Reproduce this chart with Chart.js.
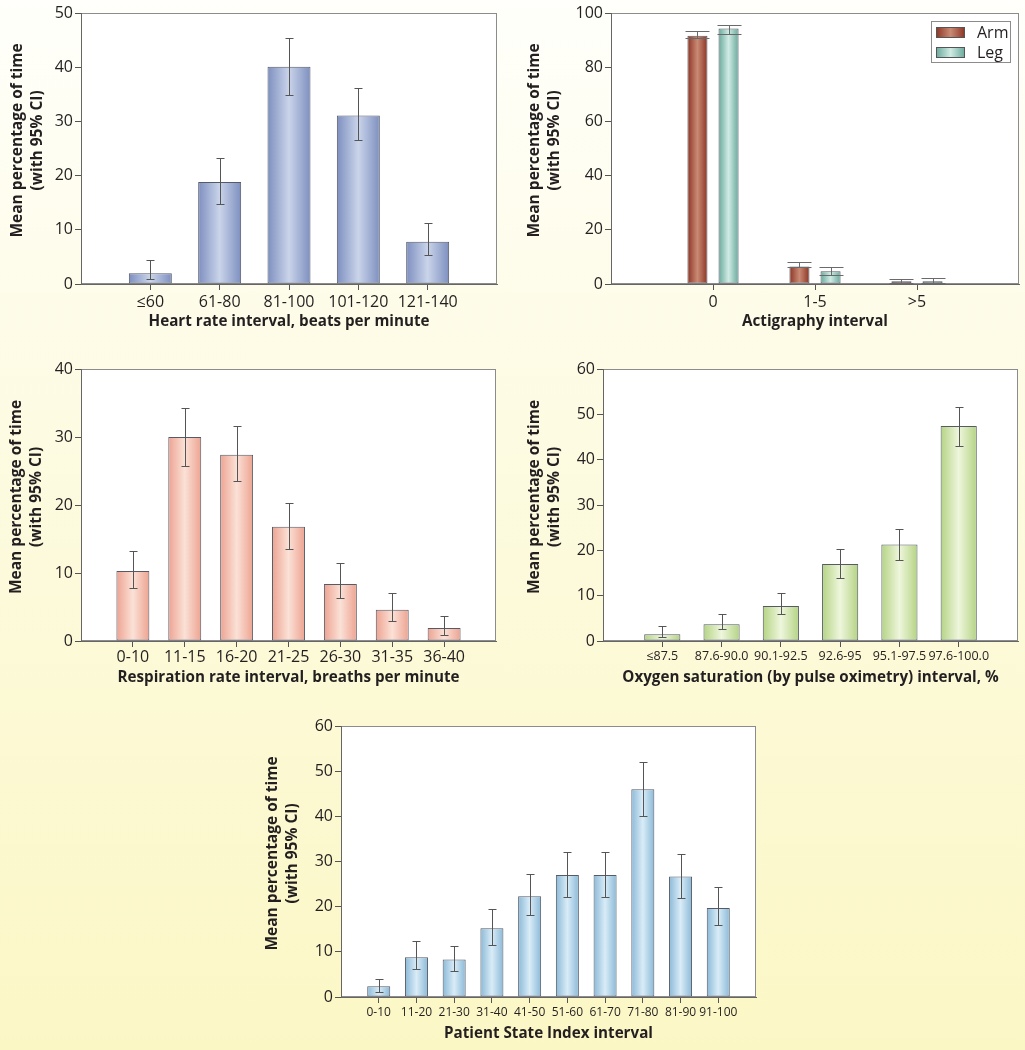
<!DOCTYPE html>
<html>
<head>
<meta charset="utf-8">
<script src="https://cdn.jsdelivr.net/npm/chart.js@4.4.1/dist/chart.umd.min.js"></script>
<style>
  html, body { margin: 0; padding: 0; }
  body {
    width: 1025px; height: 1050px; position: relative; overflow: hidden;
    background: linear-gradient(#fffffb 0%, #fdfbe2 40%, #fbf7c5 100%);
  }
  canvas { position: absolute; }
</style>
</head>
<body>
<canvas id="hrChart"></canvas>
<canvas id="actChart"></canvas>
<canvas id="rrChart"></canvas>
<canvas id="spo2Chart"></canvas>
<canvas id="psiChart"></canvas>
<script>
// heart rate
const hrLabels = ["≤60", "61-80", "81-100", "101-120", "121-140"];
const hrMean = [2.0, 18.8, 40.1, 31.1, 7.8];
const hrLo = [0.9, 14.8, 34.8, 26.5, 5.3];
const hrHi = [4.4, 23.2, 45.3, 36.1, 11.2];

// actigraphy
const actLabels = ["0", "1-5", ">5"];
const armMean = [91.6, 6.5, 1.0];
const armLo = [90.7, 6.3, 0.4];
const armHi = [93.2, 8.0, 2.0];
const legMean = [94.3, 4.7, 1.0];
const legLo = [92.2, 3.3, 0.4];
const legHi = [95.4, 6.3, 2.1];

// respiration rate
const rrLabels = ["0-10", "11-15", "16-20", "21-25", "26-30", "31-35", "36-40"];
const rrMean = [10.3, 30.0, 27.4, 16.8, 8.4, 4.6, 1.9];
const rrLo = [7.8, 25.8, 23.5, 13.6, 6.3, 3.0, 0.9];
const rrHi = [13.3, 34.2, 31.6, 20.3, 11.4, 7.0, 3.7];

// oxygen saturation
const spo2Labels = ["≤87.5", "87.6-90.0", "90.1-92.5", "92.6-95", "95.1-97.5", "97.6-100.0"];
const spo2Mean = [1.5, 3.7, 7.7, 17.0, 21.3, 47.4];
const spo2Lo = [0.8, 2.6, 5.9, 13.8, 17.9, 43.1];
const spo2Hi = [3.2, 5.9, 10.5, 20.2, 24.8, 51.6];

// patient state index
const psiLabels = ["0-10", "11-20", "21-30", "31-40", "41-50", "51-60", "61-70", "71-80", "81-90", "91-100"];
const psiMean = [2.4, 8.8, 8.3, 15.2, 22.3, 27.0, 27.0, 46.0, 26.7, 19.7];
const psiLo = [1.0, 6.3, 5.7, 11.6, 18.2, 22.2, 22.2, 40.1, 22.0, 15.9];
const psiHi = [4.0, 12.3, 11.3, 19.4, 27.2, 32.2, 32.0, 52.1, 31.7, 24.4];

// leading spaces nudge the centred title a little above the plot middle
const yTitle = ["    Mean percentage of time", "    (with 95% CI)"];

Chart.defaults.font.family = "'Open Sans', 'Noto Sans', sans-serif";
Chart.defaults.color = "#231f20";

// empty slot before the first and after the last category
const pad = (arr, v) => [v, ...arr, v];

// horizontal gradient across each bar: dark edges, light middle
function barFill(c) {
  const ds = c.dataset;
  if (c.type !== "data") return ds.fillMid;
  const chart = c.chart;
  const xs = chart.scales.x;
  const n = chart.data.datasets.length;
  const step = xs.getPixelForValue(1) - xs.getPixelForValue(0);
  const size = step * ds.categoryPercentage;
  const chunk = size / n;
  const cx = xs.getPixelForValue(c.dataIndex) - size / 2 + chunk * (c.datasetIndex + 0.5);
  const w = chunk * ds.barPercentage;
  if (!isFinite(cx) || !isFinite(w) || w <= 0) return ds.fillMid;
  const g = chart.ctx.createLinearGradient(cx - w / 2, 0, cx + w / 2, 0);
  g.addColorStop(0, ds.fillEdge);
  g.addColorStop(0.5, ds.fillMid);
  g.addColorStop(1, ds.fillEdge);
  return g;
}

// x tick marks only under the real categories, not the empty end slots
function xTickColor(c) {
  const n = c.scale && c.scale.ticks ? c.scale.ticks.length : 0;
  return c.index > 0 && c.index < n - 1 ? "#555" : "rgba(0,0,0,0)";
}

const plotFrame = {
  id: "plotFrame",
  beforeDraw(chart) {
    const { ctx, chartArea: a } = chart;
    ctx.save();
    ctx.fillStyle = "#ffffff";
    ctx.fillRect(a.left, a.top, a.width, a.height);
    ctx.strokeStyle = "#8c8c8c";
    ctx.lineWidth = 1;
    ctx.strokeRect(Math.round(a.left) + 0.5, Math.round(a.top) + 0.5,
      Math.round(a.width) - 1, Math.round(a.height) - 1);
    ctx.restore();
  },
};

const errorBars = {
  id: "errorBars",
  afterDatasetsDraw(chart) {
    const { ctx } = chart;
    const ys = chart.scales.y;
    chart.data.datasets.forEach((ds, di) => {
      chart.getDatasetMeta(di).data.forEach((bar, i) => {
        const lo = ds.errLo[i], hi = ds.errHi[i];
        if (lo == null || hi == null) return;
        const x = Math.round(bar.x) + 0.5;
        const yl = Math.round(ys.getPixelForValue(lo)) + 0.5;
        const yh = Math.round(ys.getPixelForValue(hi)) + 0.5;
        const c = ds.capHalf;
        ctx.save();
        ctx.strokeStyle = ds.errColor;
        ctx.lineWidth = 1;
        ctx.beginPath();
        ctx.moveTo(x, yl); ctx.lineTo(x, yh);
        ctx.moveTo(x - c, yl); ctx.lineTo(x + c, yl);
        ctx.moveTo(x - c, yh); ctx.lineTo(x + c, yh);
        ctx.stroke();
        ctx.restore();
      });
    });
  },
};

// framed legend in the top right corner of the plot (actigraphy only)
const boxLegend = {
  id: "boxLegend",
  afterDraw(chart) {
    const { ctx, chartArea: a } = chart;
    const w = 80, h = 42;
    const x0 = Math.round(a.right) - 8 - w, y0 = Math.round(a.top) + 8;
    ctx.save();
    ctx.fillStyle = "#ffffff";
    ctx.fillRect(x0, y0, w, h);
    ctx.strokeStyle = "#8c8c8c";
    ctx.lineWidth = 1;
    ctx.strokeRect(x0 + 0.5, y0 + 0.5, w - 1, h - 1);
    chart.data.datasets.forEach((ds, i) => {
      const sx = x0 + 5, sy = y0 + 6 + i * 20;
      const g = ctx.createLinearGradient(sx, 0, sx + 29, 0);
      g.addColorStop(0, ds.fillEdge);
      g.addColorStop(0.5, ds.fillMid);
      g.addColorStop(1, ds.fillEdge);
      ctx.fillStyle = g;
      ctx.fillRect(sx, sy, 29, 11);
      ctx.strokeStyle = "#555";
      ctx.strokeRect(sx + 0.5, sy + 0.5, 28, 10);
      ctx.fillStyle = "#231f20";
      ctx.font = "16px 'Open Sans', sans-serif";
      ctx.textBaseline = "middle";
      ctx.fillText(ds.label, x0 + 46, sy + 6);
    });
    ctx.restore();
  },
};

function series(label, mean, lo, hi, edge, mid, cat, bar, capHalf, errColor) {
  return {
    label: label,
    data: pad(mean, null),
    errLo: pad(lo, null),
    errHi: pad(hi, null),
    fillEdge: edge,
    fillMid: mid,
    backgroundColor: barFill,
    borderColor: "#555a66",
    borderWidth: 1,
    borderSkipped: false,
    categoryPercentage: cat,
    barPercentage: bar,
    capHalf: capHalf,
    errColor: errColor,
  };
}

// box: canvas rect on the page, plot: plot-area rect on the page
function drawBars(id, box, plot, labels, datasets, yMax, yStep, o) {
  const canvas = document.getElementById(id);
  canvas.width = box.w;
  canvas.height = box.h;
  canvas.style.left = box.x + "px";
  canvas.style.top = box.y + "px";

  const yW = plot.l - box.x;
  const xH = box.y + box.h - plot.b;

  new Chart(canvas, {
    type: "bar",
    data: { labels: pad(labels, ""), datasets: datasets },
    options: {
      responsive: false,
      animation: false,
      events: [],
      layout: {
        padding: { left: 0, top: plot.t - box.y, right: box.x + box.w - plot.r, bottom: 0 },
      },
      plugins: { legend: { display: false }, tooltip: { enabled: false } },
      scales: {
        x: {
          offset: false,
          grid: {
            offset: false,
            drawOnChartArea: false,
            drawTicks: true,
            tickLength: 6,
            color: xTickColor,
            tickColor: xTickColor,
          },
          border: { color: "#666" },
          ticks: {
            autoSkip: false,
            maxRotation: 0,
            padding: o.xTickPad,
            font: { size: o.xTickSize },
            color: "#231f20",
          },
          title: {
            display: true,
            text: o.xTitle,
            font: { size: 15.2, weight: "bold", lineHeight: 1.2 },
            padding: { top: 0, bottom: box.y + box.h - o.xTitleCy - 9.1 },
            color: "#231f20",
          },
          afterFit: (s) => { s.height = xH; },
        },
        y: {
          min: 0,
          max: yMax,
          ticks: { stepSize: yStep, padding: 2, font: { size: 16 }, color: "#231f20" },
          grid: { drawOnChartArea: false, tickLength: 6, color: "#555" },
          border: { color: "#666" },
          title: {
            display: true,
            text: yTitle,
            font: { size: 15.5, weight: "bold", lineHeight: 1.29 },
            padding: { top: o.yTitleCx - box.x - 10, bottom: 0 },
            color: "#231f20",
          },
          afterFit: (s) => { s.width = yW; },
        },
      },
    },
    plugins: [plotFrame, errorBars].concat(o.plugins || []),
  });
}

drawBars("hrChart",
  { x: 0, y: 0, w: 512, h: 340 }, { l: 81, t: 13, r: 497, b: 284 },
  hrLabels,
  [series("Heart rate", hrMean, hrLo, hrHi, "#7d8fbf", "#cad4ea", 1, 0.62, 4, "#555")],
  50, 10,
  { xTitle: "Heart rate interval, beats per minute", xTickSize: 16, xTickPad: 3, xTitleCy: 322, yTitleCx: 18 });

drawBars("actChart",
  { x: 512, y: 0, w: 513, h: 340 }, { l: 611, t: 13, r: 1019, b: 284 },
  actLabels,
  [
    series("Arm", armMean, armLo, armHi, "#8c3424", "#c98a74", 0.61, 0.645, 12, "#6a6a6a"),
    series("Leg", legMean, legLo, legHi, "#68a89b", "#d0ebe4", 0.61, 0.645, 12, "#6a6a6a"),
  ],
  100, 20,
  { xTitle: "Actigraphy interval", xTickSize: 16, xTickPad: 3, xTitleCy: 322, yTitleCx: 535, plugins: [boxLegend] });

drawBars("rrChart",
  { x: 0, y: 350, w: 512, h: 350 }, { l: 81, t: 369, r: 496, b: 641 },
  rrLabels,
  [series("Respiration rate", rrMean, rrLo, rrHi, "#eda391", "#fbe1d6", 1, 0.635, 4, "#555")],
  40, 10,
  { xTitle: "Respiration rate interval, breaths per minute", xTickSize: 16, xTickPad: 1, xTitleCy: 678, yTitleCx: 17 });

drawBars("spo2Chart",
  { x: 512, y: 350, w: 513, h: 350 }, { l: 603, t: 369, r: 1018, b: 641 },
  spo2Labels,
  [series("Oxygen saturation", spo2Mean, spo2Lo, spo2Hi, "#b4d384", "#eef6dc", 1, 0.61, 4, "#555")],
  60, 10,
  { xTitle: "Oxygen saturation (by pulse oximetry) interval, %", xTickSize: 12.5, xTickPad: 2, xTitleCy: 678, yTitleCx: 535 });

drawBars("psiChart",
  { x: 250, y: 705, w: 520, h: 345 }, { l: 341, t: 726, r: 756, b: 997 },
  psiLabels,
  [series("Patient State Index", psiMean, psiLo, psiHi, "#8bb9d8", "#d9ecf7", 1, 0.61, 4, "#555")],
  60, 10,
  { xTitle: "Patient State Index interval", xTickSize: 12, xTickPad: 2, xTitleCy: 1034, yTitleCx: 273 });
</script>
</body>
</html>
